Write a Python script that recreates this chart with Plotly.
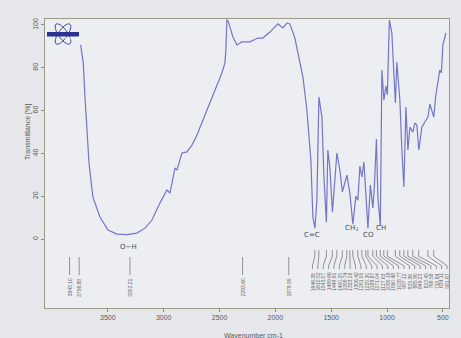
import numpy as np
import plotly.graph_objects as go

# ---- spectrum ----
wavenumber = [3744, 3720, 3705, 3690, 3669, 3634, 3571, 3499, 3419, 3329, 3240, 3168, 3105,
              3034, 2989, 2971, 2944, 2917, 2899, 2881, 2837, 2792, 2747, 2702, 2649, 2604,
              2568, 2514, 2479, 2452, 2443, 2434, 2420, 2407, 2380, 2344, 2300, 2228, 2156,
              2112, 2049, 1977, 1932, 1897, 1870, 1825, 1798, 1753, 1718, 1700, 1682, 1664,
              1646, 1628, 1610, 1583, 1565, 1543, 1530, 1512, 1489, 1449, 1422, 1400, 1359,
              1333, 1306, 1279, 1261, 1243, 1225, 1207, 1189, 1171, 1149, 1127, 1113, 1095,
              1082, 1060, 1046, 1028, 1010, 997, 979, 957, 939, 925, 912, 885, 867, 849, 831,
              813, 795, 769, 751, 733, 715, 688, 661, 634, 616, 598, 581, 563, 545, 527, 513,
              500, 482, 473]
transmittance = [90.7, 82.2, 66.4, 50.9, 35.5, 19.6, 10.3, 4.2, 2.3, 2.1, 2.8, 5.1, 8.9,
                 16.8, 21.5, 22.9, 21.5, 27.6, 33.2, 32.2, 40.2, 40.7, 43.9, 48.6, 55.6, 61.2,
                 65.9, 73.4, 77.6, 82.2, 88.3, 102.5, 101.4, 99.1, 94.4, 90.7, 92.1, 92.1, 93.9,
                 93.9, 96.7, 100.5, 98.6, 100.9, 100.5, 93.9, 86.9, 75.7, 60.3, 46.3, 36.9, 10.3,
                 5.1, 18.2, 66.4, 57.0, 29.0, 7.9, 41.6, 33.6, 12.6, 40.2, 32.2, 22.0, 29.9,
                 21.5, 7.0, 20.1, 18.2, 34.1, 29.0, 36.0, 19.6, 5.1, 25.2, 14.5, 24.8, 46.7,
                 19.6, 6.1, 79.0, 65.0, 71.5, 67.3, 102.3, 96.3, 77.6, 63.6, 82.7, 65.0, 41.6, 24.3, 61.7,
                 41.6, 52.3, 50.0, 54.2, 53.3, 41.6, 52.3, 54.7, 57.0, 63.1, 60.3, 57.0, 67.3, 74.3, 79.0, 77.6,
                 90.7, 94.4, 96.3]

# ---- peak pick labels ----
peaks_single = [3843.10, 3756.88, 3302.21, 2293.60, 1879.95]
peaks_dense = [1646.38, 1610.52, 1543.07, 1489.66, 1449.91, 1400.25, 1359.74, 1333.18,
               1306.42, 1261.55, 1225.30, 1189.87, 1171.04, 1127.63, 1095.19, 1060.48,
               1028.77, 997.12, 925.36, 885.90, 849.23, 813.45, 769.58, 715.84, 634.11, 581.67]

# ---- group assignments ----
group_labels = ["O\u2212H", "C=C", "CH<sub>3</sub>", "CO", "CH"]
group_wn = [3311, 1673, 1315, 1167, 1055]
group_t = [-3.7, 1.9, 5.1, 1.9, 5.1]

x_ticks = [3500, 3000, 2500, 2000, 1500, 1000, 500]
y_ticks = [0, 20, 40, 60, 80, 100]

LINE = "#7276c8"
TXT = "#5a5a5a"
BG = "#e5e7ea"

fig = go.Figure()
fig.add_trace(go.Scatter(x=wavenumber, y=transmittance, mode="lines",
                         line=dict(color=LINE, width=1.2), hoverinfo="skip"))

# peak marker lines
lx, ly = [], []
for p in peaks_single:
    lx += [p, p, None]
    ly += [-8.4, -16.8, None]
label_pos = np.linspace(1668, 462, len(peaks_dense))
for p, q in zip(peaks_dense, label_pos):
    lx += [p, p, q, q, None]
    ly += [-5.1, -8.0, -12.5, -14.0, None]
fig.add_trace(go.Scatter(x=lx, y=ly, mode="lines", line=dict(color="#7a7a7a", width=0.8),
                         hoverinfo="skip"))

ann = []
for p in peaks_single:
    ann.append(dict(x=p, y=-17.6, xref="x", yref="y", text=f"{p:.2f}", showarrow=False,
                    textangle=-90, yanchor="top", xanchor="center",
                    font=dict(size=5, color="#666")))
for p, q in zip(peaks_dense, label_pos):
    ann.append(dict(x=q, y=-14.8, xref="x", yref="y", text=f"{p:.2f}", showarrow=False,
                    textangle=-90, yanchor="top", xanchor="center",
                    font=dict(size=5, color="#666")))
for lab, gx, gy in zip(group_labels, group_wn, group_t):
    ann.append(dict(x=gx, y=gy, xref="x", yref="y", text=lab, showarrow=False,
                    font=dict(size=7, color="#4a4a5a", family="DejaVu Sans")))

# axis titles
ann.append(dict(x=-0.057, y=50, xref="paper", yref="y", text="Transmittance [%]",
                showarrow=False, textangle=-90, font=dict(size=7, color=TXT)))
ann.append(dict(x=0.515, y=-0.075, xref="paper", yref="paper", text="Wavenumber cm-1",
                showarrow=False, yanchor="top", font=dict(size=7, color=TXT)))

# ---- Bruker logo (decoration) ----
L, R, T, B = 45, 449, 19, 308
def px2paper(px, py):
    return (px - L) / (R - L), (B - py) / (B - T)

shapes = []
tt = np.linspace(0, 2 * np.pi, 40)
for ang in (np.deg2rad(55), np.deg2rad(-55)):
    ex = 63 + 12 * np.cos(tt) * np.cos(ang) - 4.5 * np.sin(tt) * np.sin(ang)
    ey = 34 + 12 * np.cos(tt) * np.sin(ang) + 4.5 * np.sin(tt) * np.cos(ang)
    pts = [px2paper(a, b) for a, b in zip(ex, ey)]
    path = "M " + " L ".join(f"{a:.4f},{b:.4f}" for a, b in pts) + " Z"
    shapes.append(dict(type="path", path=path, xref="paper", yref="paper",
                       line=dict(color="#3a4398", width=1)))
x0, y0 = px2paper(47, 36.5)
x1, y1 = px2paper(79, 32)
shapes.append(dict(type="rect", x0=x0, y0=y0, x1=x1, y1=y1, xref="paper", yref="paper",
                   fillcolor="#2a3490", line=dict(width=0)))
cx, cy = px2paper(63, 34.3)
ann.append(dict(x=cx, y=cy, xref="paper", yref="paper", text="BRUKER", showarrow=False,
                font=dict(size=4, color="white")))

fig.update_layout(
    width=461, height=338,
    margin=dict(l=L, r=461 - R, t=T, b=338 - B),
    paper_bgcolor=BG, plot_bgcolor="#eceef1",
    showlegend=False,
    annotations=ann, shapes=shapes,
    font=dict(family="Liberation Sans", size=7, color=TXT),
)
fig.update_xaxes(range=[4063, 445], tickvals=x_ticks, ticktext=[str(v) for v in x_ticks],
                 showgrid=False, zeroline=False, showline=True, mirror=True,
                 linecolor="#9d9b86", linewidth=1, ticks="outside", ticklen=3,
                 tickcolor="#888", tickfont=dict(size=7, color=TXT))
fig.update_yaxes(range=[-32.2, 102.8], tickvals=y_ticks, ticktext=[str(v) for v in y_ticks],
                 showgrid=False, zeroline=False, showline=True, mirror=True,
                 linecolor="#9d9b86", linewidth=1, ticks="outside", ticklen=3,
                 tickcolor="#888", tickangle=-90, tickfont=dict(size=7, color=TXT))

fig.write_html("out.html", config={"displayModeBar": False},
               post_script="document.body.style.margin='0';"
                           "document.body.style.background='" + BG + "';")
